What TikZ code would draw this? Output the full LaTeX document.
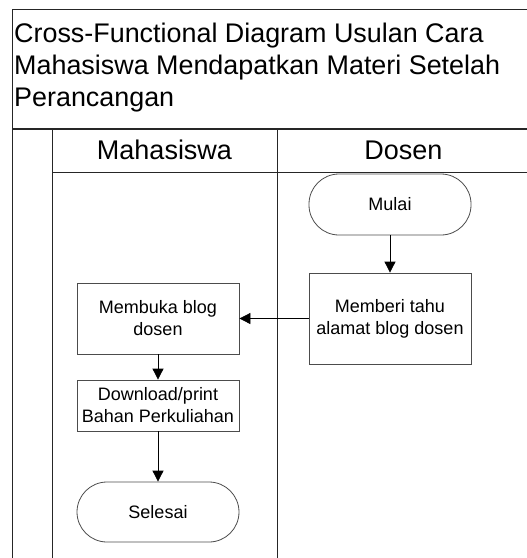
\documentclass[tikz,border=0pt]{standalone}
\usepackage{fontspec}
\setmainfont{Liberation Sans}
\usepackage{tikz}
\usetikzlibrary{arrows.meta, positioning}

\begin{document}
\begin{tikzpicture}[
    x=1pt, y=-1pt,
    lane/.style={draw=black!85, line width=1pt},
    proc/.style={draw=black!70, line width=0.8pt, align=center, inner sep=0pt,
        minimum width=162pt, font=\fontsize{18}{22}\selectfont},
    term/.style={proc, rounded corners=30pt},
    flow/.style={draw, line width=0.8pt, -{Triangle[length=11pt, width=11pt]}},
    hdr/.style={anchor=base, inner sep=0pt, font=\fontsize{27}{32}\selectfont}
]
\useasboundingbox (0,0) rectangle (527,558);
\clip (0,0) rectangle (527,558);

% frame and lanes
\draw[lane] (12,570) -- (12,9) -- (540,9);
\draw[lane, line width=1.5pt] (12,129) -- (540,129);
\draw[lane] (52,172) -- (540,172);
\draw[lane] (52,129) -- (52,570);
\draw[lane] (277,129) -- (277,570);

\node[anchor=north west, inner sep=0pt, align=left, font=\fontsize{26.9}{32}\selectfont] (title) at (14,23)
    {Cross-Functional Diagram Usulan Cara\\Mahasiswa Mendapatkan Materi Setelah\\Perancangan};
\node[hdr] (mhs) at (164.5,159) {Mahasiswa};
\node[hdr] (dsn) at (403.5,159) {Dosen};

% steps
\node[term, minimum height=61pt] (mulai) at (390,204.5) {Mulai};
\node[proc, minimum height=91pt] (beritahu) at (390,318.5) {Memberi tahu\\alamat blog dosen};
\node[proc, minimum height=71pt] (buka) at (158,318.5) {Membuka blog\\dosen};
\node[proc, minimum height=51pt] (unduh) at (158,405.5) {Download/print\\Bahan Perkuliahan};
\node[term, minimum height=60pt] (selesai) at (158,512) {Selesai};

\draw[flow] (mulai) -- (beritahu);
\draw[flow] (beritahu) -- (buka);
\draw[flow] (buka) -- (unduh);
\draw[flow] (unduh) -- (selesai);

\end{tikzpicture}
\end{document}
